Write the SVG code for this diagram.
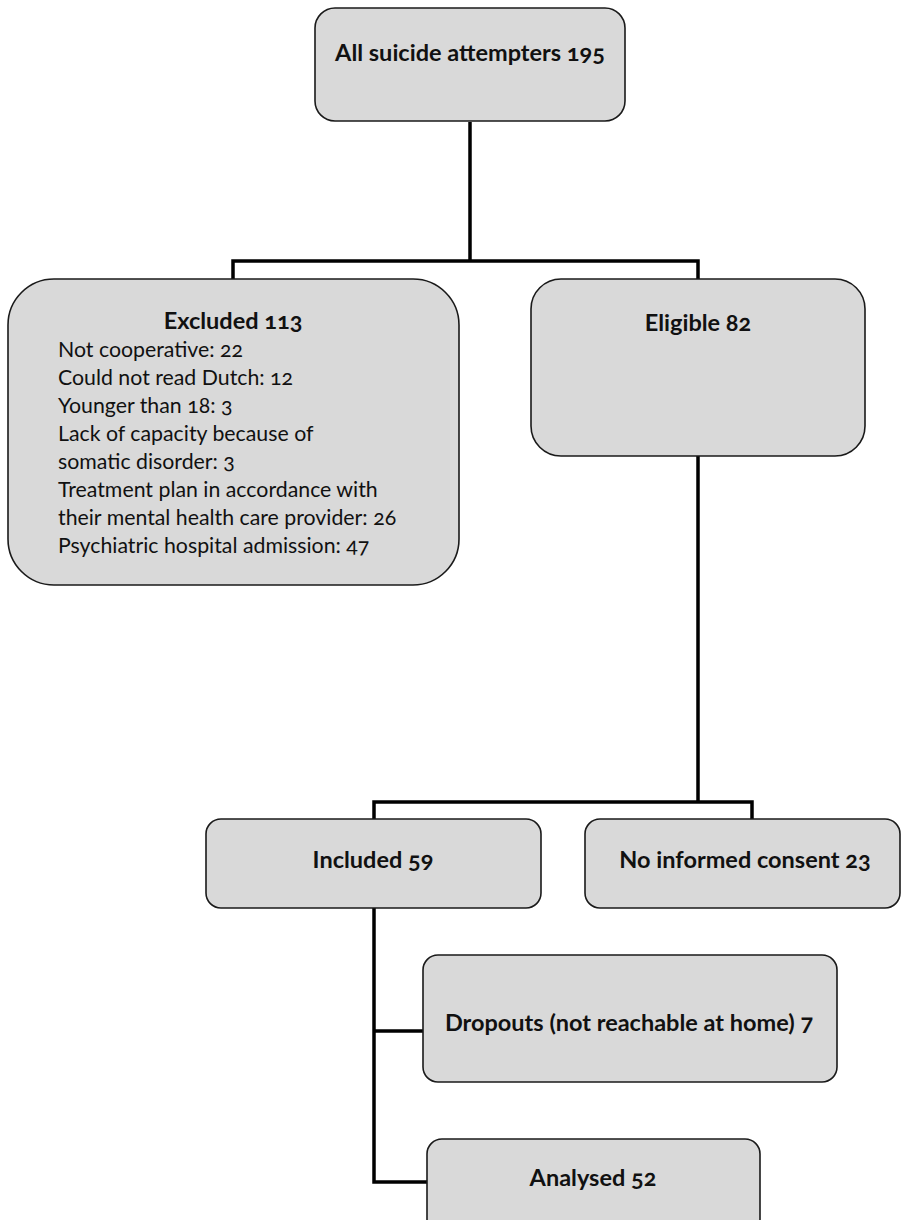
<svg xmlns="http://www.w3.org/2000/svg" width="909" height="1220" viewBox="0 0 909 1220">
<style>
.box{fill:#d9d9d9;stroke:#1a1a1a;stroke-width:1.6}
.conn{fill:none;stroke:#000;stroke-width:3.5}
.b{font-family:Lato,"Liberation Sans",sans-serif;font-weight:bold;font-size:23.5px;fill:#111;text-anchor:middle;font-variant-numeric:oldstyle-nums}
.r{font-family:Lato,"Liberation Sans",sans-serif;font-size:21.3px;fill:#111;font-variant-numeric:oldstyle-nums}
</style>
<rect width="909" height="1220" fill="#fff"/>
<g id="connectors">
<path class="conn" d="M470,122 V261 M233,279 V261 H698 V279"/>
<path class="conn" d="M698,456 V802 M374,819 V802 H752 V819"/>
<path class="conn" d="M374,908 V1182 H427 M374,1031 H423"/>
</g>
<g id="all">
<rect class="box" x="315" y="8" width="310" height="113" rx="20"/>
<text class="b" x="470" y="61">All suicide attempters 195</text>
</g>
<g id="excluded">
<rect class="box" x="8" y="279" width="451" height="306" rx="46"/>
<text class="b" x="233" y="329">Excluded 113</text>
<text class="r" x="58" y="357">Not cooperative: 22</text>
<text class="r" x="58" y="385">Could not read Dutch: 12</text>
<text class="r" x="58" y="413">Younger than 18: 3</text>
<text class="r" x="58" y="441">Lack of capacity because of</text>
<text class="r" x="58" y="469">somatic disorder: 3</text>
<text class="r" x="58" y="497">Treatment plan in accordance with</text>
<text class="r" x="58" y="525">their mental health care provider: 26</text>
<text class="r" x="58" y="553">Psychiatric hospital admission: 47</text>
</g>
<g id="eligible">
<rect class="box" x="531" y="279" width="334" height="177" rx="30"/>
<text class="b" x="698" y="331">Eligible 82</text>
</g>
<g id="included">
<rect class="box" x="206" y="819" width="335" height="89" rx="15"/>
<text class="b" x="373" y="868">Included 59</text>
</g>
<g id="noconsent">
<rect class="box" x="585" y="819" width="315" height="89" rx="15"/>
<text class="b" x="745" y="868">No informed consent 23</text>
</g>
<g id="dropouts">
<rect class="box" x="423" y="955" width="414" height="127" rx="15"/>
<text class="b" x="629" y="1031">Dropouts (not reachable at home) 7</text>
</g>
<g id="analysed">
<rect class="box" x="427" y="1139" width="333" height="95" rx="15"/>
<text class="b" x="593" y="1186">Analysed 52</text>
</g>
</svg>
